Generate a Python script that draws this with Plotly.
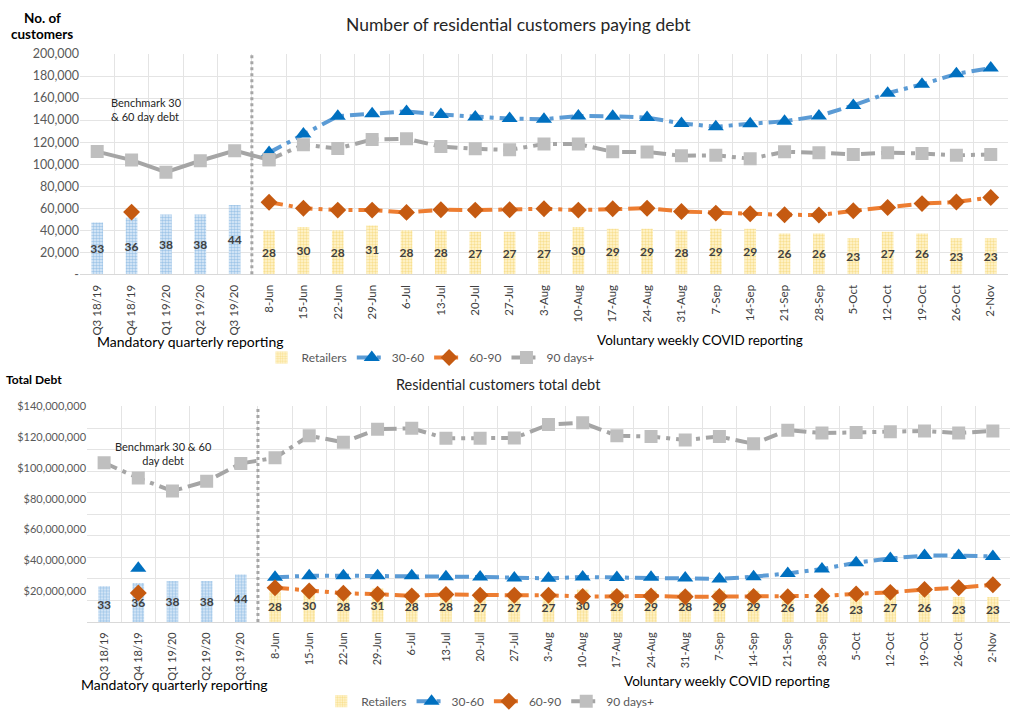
import plotly.graph_objects as go

# ---------------- data ----------------
cats_q = ["Q3 18/19", "Q4 18/19", "Q1 19/20", "Q2 19/20", "Q3 19/20"]
cats_w = ["8-Jun", "15-Jun", "22-Jun", "29-Jun", "6-Jul", "13-Jul", "20-Jul", "27-Jul",
          "3-Aug", "10-Aug", "17-Aug", "24-Aug", "31-Aug", "7-Sep", "14-Sep", "21-Sep",
          "28-Sep", "5-Oct", "12-Oct", "19-Oct", "26-Oct", "2-Nov"]
cats = cats_q + cats_w

retailers_q = [33, 36, 38, 38, 44]
retailers_w = [28, 30, 28, 31, 28, 28, 27, 27, 27, 30, 29, 29, 28, 29, 29, 26, 26, 23, 27, 26, 23, 23]

# Number of customers
cust_90_q = [111400, 103700, 92700, 103100, 112300]
cust_90_w = [104000, 117700, 114200, 122500, 123100, 116000, 113900, 113000, 118300, 118300, 111200,
             111000, 107700, 108000, 105000, 111200, 110400, 108900, 110400, 109800, 108000, 108900]
cust_3060_w = [110500, 127500, 143500, 145900, 147900, 145000, 142900, 141400, 140800, 143800, 143500,
               142300, 137000, 134000, 136700, 139000, 143800, 153300, 164500, 172500, 182000, 187300]
cust_6090_q = [None, 56500, None, None, None]
cust_6090_w = [65500, 60000, 58300, 58300, 56200, 58600, 58300, 58600, 59500, 58300, 59500,
               60000, 57100, 55600, 55000, 54100, 53800, 57700, 60700, 64200, 65700, 69800]

# Total debt ($ millions)
debt_90 = [103.4, 93.5, 85.0, 91.4, 103.0,
           106.6, 121.0, 116.7, 125.2, 125.8, 119.3, 119.3, 119.5, 128.2, 129.4, 121.0,
           120.5, 118.2, 120.5, 115.7, 124.6, 122.7, 123.1, 123.5, 124.1, 122.7, 124.1]
debt_3060_q = [None, 34.9, None, None, None]
debt_3060_w = [29.0, 30.0, 30.0, 30.0, 30.0, 29.4, 29.2, 28.5, 28.3, 29.2, 28.9,
               29.0, 28.5, 27.9, 29.4, 31.5, 34.3, 38.5, 41.2, 43.1, 43.1, 42.5]
debt_6090_q = [None, 18.8, None, None, None]
debt_6090_w = [22.2, 20.1, 18.6, 18.0, 16.9, 17.8, 17.3, 17.3, 17.3, 16.5, 16.6,
               16.9, 16.3, 16.5, 16.5, 16.3, 16.9, 18.2, 19.2, 21.1, 22.2, 24.1]

cust_ticks = [0, 20000, 40000, 60000, 80000, 100000, 120000, 140000, 160000, 180000, 200000]
cust_ticktext = ["-", "20,000", "40,000", "60,000", "80,000", "100,000", "120,000", "140,000",
                 "160,000", "180,000", "200,000"]
debt_ticks = [20e6, 40e6, 60e6, 80e6, 100e6, 120e6, 140e6]
debt_ticktext = ["$20,000,000", "$40,000,000", "$60,000,000", "$80,000,000", "$100,000,000",
                 "$120,000,000", "$140,000,000"]

# ---------------- styles ----------------
FONT = "Lato, Liberation Sans, Arial, sans-serif"
BLUE_L, BLUE_M = "#5B9BD5", "#0070C0"
ORA_L, ORA_M = "#ED7D31", "#C55A11"
GRY_L, GRY_M = "#A5A5A5", "#BFBFBF"
GRID = "#E4E4E4"
DASH = "14px,6px,4px,6px"
LW = 4

fig = go.Figure()


def bars(xa, ya, legend, showleg):
    fig.add_trace(go.Bar(
        x=cats_q, y=retailers_q, text=retailers_q, xaxis=xa, yaxis=ya, width=0.34,
        marker=dict(color="#DDEBF7", line=dict(width=0),
                    pattern=dict(shape=".", fgcolor="#5B9BD5", bgcolor="#E3EFFA", size=3, solidity=0.55)),
        textposition="inside", insidetextanchor="middle", textangle=0, constraintext="none",
        textfont=dict(color="#404040", size=12, family=FONT, weight="bold"),
        showlegend=False, legend=legend, hoverinfo="skip"))
    fig.add_trace(go.Bar(
        x=cats_w, y=retailers_w, text=retailers_w, xaxis=xa, yaxis=ya, width=0.34,
        name="Retailers",
        marker=dict(color="#FFF2CC", line=dict(width=0),
                    pattern=dict(shape=".", fgcolor="#F2C94C", bgcolor="#FFF6D5", size=3, solidity=0.5)),
        textposition="inside", insidetextanchor="middle", textangle=0, constraintext="none",
        textfont=dict(color="#404040", size=12, family=FONT, weight="bold"),
        showlegend=showleg, legend=legend, hoverinfo="skip"))


MS = 13

# ---- top chart ----
bars("x", "y", "legend", True)
fig.add_trace(go.Scatter(x=cats_w, y=cust_3060_w, xaxis="x", yaxis="y2", name="30-60",
                         mode="lines+markers", line=dict(color=BLUE_L, width=LW, dash=DASH),
                         marker=dict(symbol="triangle-up", size=MS + 1, color=BLUE_M), legend="legend"))
fig.add_trace(go.Scatter(x=cats_q + cats_w, y=cust_6090_q + cust_6090_w, xaxis="x", yaxis="y2", name="60-90",
                         mode="lines+markers", connectgaps=False, line=dict(color=ORA_L, width=LW, dash=DASH),
                         marker=dict(symbol="diamond", size=MS, color=ORA_M), legend="legend"))
fig.add_trace(go.Scatter(x=cats_q + cats_w[:1], y=cust_90_q + cust_90_w[:1], xaxis="x", yaxis="y2",
                         mode="lines+markers", line=dict(color=GRY_L, width=LW),
                         marker=dict(symbol="square", size=MS, color=GRY_M), showlegend=False,
                         legend="legend"))
fig.add_trace(go.Scatter(x=cats_w, y=cust_90_w, xaxis="x", yaxis="y2", name="90 days+",
                         mode="lines+markers", line=dict(color=GRY_L, width=LW, dash=DASH),
                         marker=dict(symbol="square", size=MS, color=GRY_M), legend="legend"))

# ---- bottom chart ----
bars("x2", "y3", "legend2", True)
fig.add_trace(go.Scatter(x=cats_q + cats_w, y=[None if v is None else v * 1e6 for v in debt_3060_q + debt_3060_w],
                         xaxis="x2", yaxis="y4", name="30-60", connectgaps=False,
                         mode="lines+markers", line=dict(color=BLUE_L, width=LW, dash=DASH),
                         marker=dict(symbol="triangle-up", size=MS + 1, color=BLUE_M), legend="legend2"))
fig.add_trace(go.Scatter(x=cats_q + cats_w, y=[None if v is None else v * 1e6 for v in debt_6090_q + debt_6090_w],
                         xaxis="x2", yaxis="y4", name="60-90", connectgaps=False,
                         mode="lines+markers", line=dict(color=ORA_L, width=LW, dash=DASH),
                         marker=dict(symbol="diamond", size=MS, color=ORA_M), legend="legend2"))
fig.add_trace(go.Scatter(x=cats, y=[v * 1e6 for v in debt_90], xaxis="x2", yaxis="y4", name="90 days+",
                         mode="lines+markers", line=dict(color=GRY_L, width=LW, dash=DASH),
                         marker=dict(symbol="square", size=MS, color=GRY_M), legend="legend2"))


def xaxis_style(fsize):
    return dict(type="category", categoryorder="array", categoryarray=cats, tickson="boundaries",
                showgrid=True, gridcolor=GRID, gridwidth=1, tickangle=-90, ticks="",
                tickfont=dict(size=fsize, color="#404040", family=FONT), showline=True,
                linecolor="#D9D9D9", range=[-0.5, len(cats) - 0.5], zeroline=False, ticklabelstandoff=5)


fig.update_layout(
    width=1013, height=719, margin=dict(l=0, r=0, t=0, b=0),
    plot_bgcolor="white", paper_bgcolor="white",
    font=dict(family=FONT, color="#595959"),
    barmode="overlay",
    xaxis=dict(domain=[0.079, 0.995], anchor="y", **xaxis_style(11.5)),
    yaxis=dict(domain=[0.6217, 0.9346], range=[0, 140], dtick=14, showgrid=True, gridcolor=GRID,
               showticklabels=False, zeroline=False, ticks=""),
    yaxis2=dict(overlaying="y", anchor="x", side="left", range=[0, 200000], tickvals=cust_ticks,
                ticktext=cust_ticktext, showgrid=False, zeroline=False, ticks="",
                tickfont=dict(size=12.5, color="#595959", family=FONT)),
    xaxis2=dict(domain=[0.0859, 0.997], anchor="y3", **xaxis_style(11)),
    yaxis3=dict(domain=[0.128, 0.434], range=[0, 200], dtick=20, showgrid=True, gridcolor=GRID,
                showticklabels=False, zeroline=False, ticks=""),
    yaxis4=dict(overlaying="y3", anchor="x2", side="left", range=[0, 140e6], tickvals=debt_ticks,
                ticktext=debt_ticktext, showgrid=False, zeroline=False, ticks="",
                tickfont=dict(size=11, color="#595959", family=FONT)),
    legend=dict(orientation="h", x=0.425, y=0.5035, xanchor="center", yanchor="middle",
                font=dict(size=12, color="#595959", family=FONT), bgcolor="rgba(0,0,0,0)",
                itemwidth=30, tracegroupgap=0),
    legend2=dict(orientation="h", x=0.484, y=0.0153, xanchor="center", yanchor="middle",
                 font=dict(size=12, color="#595959", family=FONT), bgcolor="rgba(0,0,0,0)",
                 itemwidth=30, tracegroupgap=0),
    showlegend=True,
)

# separators between quarterly and weekly reporting
for xa, ya in (("x", "y"), ("x2", "y3")):
    fig.add_shape(type="line", xref=xa, yref=ya + " domain", x0=len(cats_q) - 0.5, x1=len(cats_q) - 0.5,
                  y0=0, y1=1, line=dict(color="#A6A6A6", width=3, dash="dot"), layer="above")

ann = [
    dict(x=42, y=10, text="<b>No. of</b>", size=13.5, color="#000000"),
    dict(x=42, y=27, text="<b>customers</b>", size=13.5, color="#000000"),
    dict(x=518, y=17, text="Number of residential customers paying debt", size=17.5, color="#262626"),
    dict(x=146, y=104, text="Benchmark 30<br>& 60 day debt", size=11, color="#262626", align="left"),
    dict(x=190, y=341, text="Mandatory quarterly reporting", size=14, color="#000000"),
    dict(x=700, y=339, text="Voluntary weekly COVID reporting", size=13.5, color="#000000"),
    dict(x=34, y=379, text="<b>Total Debt</b>", size=12, color="#000000"),
    dict(x=498, y=385, text="Residential customers total debt", size=14.5, color="#262626"),
    dict(x=163, y=455, text="Benchmark 30 &amp; 60<br>day debt", size=11, color="#262626", align="center"),
    dict(x=174, y=691, text="Mandatory quarterly reporting", size=14, color="#000000"),
    dict(x=727, y=687, text="Voluntary weekly COVID reporting", size=13.5, color="#000000"),
]
for a in ann:
    fig.add_annotation(x=a["x"] / 1013, y=1 - a["y"] / 719, xref="paper", yref="paper", text=a["text"],
                       showarrow=False, xanchor="center", yanchor="middle", align=a.get("align", "center"),
                       font=dict(size=a["size"], color=a["color"], family=FONT))

fig.write_html("out.html")
